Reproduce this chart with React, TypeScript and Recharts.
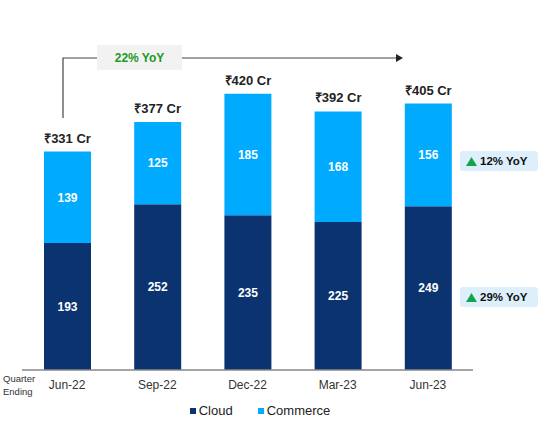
import React from "react";
import { BarChart, Bar, XAxis, YAxis, LabelList, Legend } from "recharts";

const quarters = ["Jun-22", "Sep-22", "Dec-22", "Mar-23", "Jun-23"];
const cloud = [193, 252, 235, 225, 249];
const commerce = [139, 125, 185, 168, 156];
const totals = [331, 377, 420, 392, 405];

const CLOUD = "#0A3370";
const COMMERCE = "#00AAFF";
const FONT = "'Liberation Sans', Arial, sans-serif";

const data = quarters.map((q, i) => ({
  quarter: q,
  cloud: cloud[i],
  commerce: commerce[i],
  total: totals[i],
}));

function LegendContent() {
  const items = [
    { name: "Cloud", color: CLOUD },
    { name: "Commerce", color: COMMERCE },
  ];
  return (
    <div style={{ display: "flex", justifyContent: "center", gap: 25, fontFamily: FONT, fontSize: 13, color: "#222" }}>
      {items.map((it) => (
        <span key={it.name} style={{ display: "flex", alignItems: "center" }}>
          <span style={{ width: 6, height: 6, background: it.color, display: "inline-block", marginRight: 3 }} />
          {it.name}
        </span>
      ))}
    </div>
  );
}

// total above each stacked bar
function TotalLabel(props: any) {
  const { x, y, width, value } = props;
  return (
    <text x={x + width / 2} y={y - 9} textAnchor="middle" fontFamily={FONT} fontSize={13} fontWeight="bold" fill="#222">
      {`₹${value} Cr`}
    </text>
  );
}

function Badge({ x, y, text }: { x: number; y: number; text: string }) {
  return (
    <g>
      <rect x={x} y={y} width={78} height={20} rx={3} fill="#DCEFFB" />
      <polygon points={`${x + 6},${y + 15} ${x + 17},${y + 15} ${x + 11.5},${y + 6}`} fill="#12A44A" />
      <text x={x + 20} y={y + 14} fontFamily={FONT} fontSize={11.5} fontWeight="bold" fill="#111">
        {text}
      </text>
    </g>
  );
}

export default function App() {
  return (
    <div style={{ position: "absolute", left: 0, top: 0, width: 546, height: 432, background: "#fff" }}>
      <BarChart
        width={546}
        height={432}
        data={data}
        margin={{ top: 41, right: 73, left: 22, bottom: 17 }}
        barSize={47}
      >
        <YAxis hide domain={[0, 500]} />
        <XAxis
          dataKey="quarter"
          axisLine={{ stroke: "#888", strokeWidth: 1.5 }}
          tickLine={false}
          tick={{ fill: "#333", fontSize: 12, fontFamily: FONT }}
          tickMargin={4}
          height={30}
        />
        <Legend
          verticalAlign="bottom"
          content={() => <LegendContent />}
          wrapperStyle={{ left: 0, width: 520, bottom: 14 }}
        />
        <Bar dataKey="cloud" name="Cloud" stackId="a" fill={CLOUD} isAnimationActive={false}>
          <LabelList dataKey="cloud" position="center" fill="#fff" fontSize={12} fontWeight="bold" fontFamily={FONT} />
        </Bar>
        <Bar dataKey="commerce" name="Commerce" stackId="a" fill={COMMERCE} isAnimationActive={false}>
          <LabelList dataKey="commerce" position="center" fill="#fff" fontSize={12} fontWeight="bold" fontFamily={FONT} />
          <LabelList dataKey="total" content={TotalLabel} />
        </Bar>
      </BarChart>
      <svg width={546} height={432} style={{ position: "absolute", left: 0, top: 0, pointerEvents: "none" }}>
        <polyline points="63,118 63,58 396,58" fill="none" stroke="#444" strokeWidth={1.2} />
        <polygon points="396,54 403,58 396,62" fill="#222" />
        <rect x={97} y={45} width={85} height={25} fill="#F2F2F2" />
        <text x={139.5} y={62} textAnchor="middle" fontFamily={FONT} fontSize={12} fontWeight="bold" fill="#1E9A1E">
          22% YoY
        </text>
        <Badge x={460} y={151} text="12% YoY" />
        <Badge x={460} y={287} text="29% YoY" />
        <text x={3} y={382} fontFamily={FONT} fontSize={9.5} fill="#333">Quarter</text>
        <text x={3} y={395} fontFamily={FONT} fontSize={9.5} fill="#333">Ending</text>
      </svg>
    </div>
  );
}
